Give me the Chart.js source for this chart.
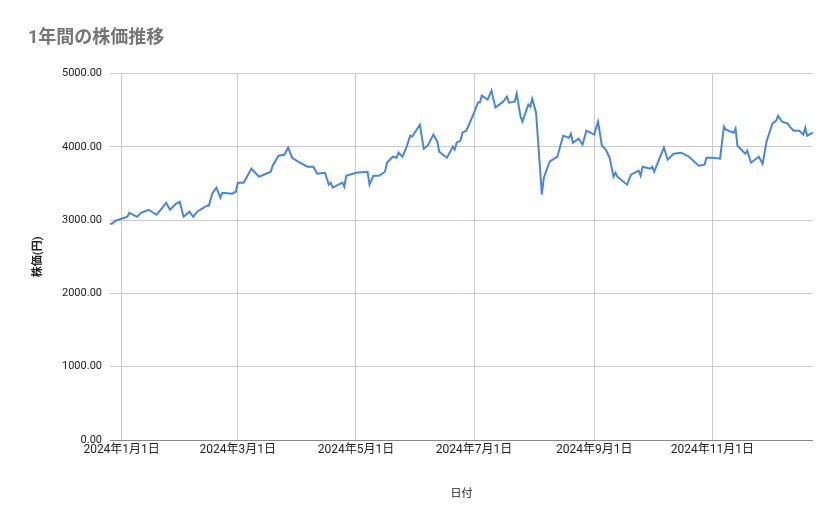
<!DOCTYPE html>
<html>
<head>
<meta charset="utf-8">
<script src="https://cdn.jsdelivr.net/npm/chart.js@4.4.0/dist/chart.umd.min.js"></script>
<style>
  body { margin: 0; background: #fff; }
  #wrap { width: 839px; height: 519px; }
</style>
</head>
<body>
<div id="wrap"><canvas id="myChart" width="839" height="519"></canvas></div>
<script>
// days since 2024-01-01
const days = [-6, -5, -3, 3, 4, 8, 10, 14, 18, 21, 23, 25, 28, 30, 32, 35, 37, 39, 44, 45, 47, 49, 51, 52, 57, 59, 60, 63, 67, 71, 77, 78, 81, 84, 86, 88, 92, 96, 99, 101, 105, 107, 108, 109, 114, 115, 116, 121,
  127, 128, 130, 133, 136, 137, 140, 142, 143, 145, 147, 149, 150, 154, 156, 158, 161, 163, 164, 168, 171, 172, 173, 175, 176, 178, 182, 184, 185, 186, 189, 191, 193, 197, 199, 200, 203, 204, 206, 207, 210, 211, 212, 214, 217, 218, 221, 225, 228, 231, 232, 233, 236, 238, 240, 244, 246,
  248, 250, 252, 254, 255, 256, 261, 263, 267, 268, 269, 273, 274, 275, 280, 282, 285, 289, 293, 298, 301, 302, 305, 309, 311, 312, 316, 317, 318, 322, 323, 325, 329, 331, 333, 336, 338, 339, 341, 344, 345, 347, 350, 352, 353, 354, 357];
const prices = [2951, 2951, 2992, 3046, 3101, 3046, 3101, 3142, 3074, 3169, 3238, 3142, 3224, 3251, 3046, 3115, 3046, 3115, 3197, 3197, 3374, 3443, 3306, 3374, 3361, 3388, 3511, 3511, 3702, 3593, 3661, 3743, 3880, 3893, 3989, 3852, 3784, 3729, 3729, 3634, 3647, 3484, 3511, 3443, 3511, 3456, 3606, 3647,
  3661, 3484, 3606, 3606, 3661, 3784, 3866, 3852, 3921, 3866, 3989, 4153, 4139, 4303, 3975, 4016, 4167, 4071, 3934, 3852, 4003, 3962, 4057, 4085, 4194, 4221, 4467, 4604, 4604, 4699, 4645, 4768, 4536, 4617, 4686, 4604, 4617, 4727, 4413, 4344, 4576, 4549, 4658, 4467, 3347, 3579, 3798, 3866, 4153, 4126, 4180, 4057, 4112, 4030, 4221, 4167, 4344,
  4016, 3962, 3852, 3593, 3647, 3593, 3484, 3620, 3675, 3606, 3729, 3702, 3729, 3661, 3989, 3825, 3907, 3921, 3866, 3743, 3757, 3852, 3852, 3839, 4276, 4235, 4194, 4249, 4016, 3907, 3948, 3784, 3866, 3770, 4071, 4317, 4358, 4426, 4344, 4317, 4276, 4221, 4221, 4167, 4262, 4153, 4194];
const tickDays = [0, 60, 121, 182, 244, 305];
const tickLabels = ["2024年1月1日", "2024年3月1日", "2024年5月1日", "2024年7月1日", "2024年9月1日", "2024年11月1日"];

const font = "Roboto, 'Noto Sans CJK JP', sans-serif";
const ctx = document.getElementById("myChart").getContext("2d");
new Chart(ctx, {
  type: "line",
  data: {
    datasets: [{
      data: days.map((d, i) => ({ x: d, y: prices[i] })),
      borderColor: "#4a86d8",
      borderWidth: 2,
      pointRadius: 0,
      tension: 0
    }]
  },
  options: {
    responsive: false,
    animation: false,
    layout: { padding: { left: 28, right: 26, top: 6, bottom: 14 } },
    plugins: {
      legend: { display: false },
      tooltip: { enabled: false },
      title: {
        display: true,
        text: "1年間の株価推移",
        align: "start",
        color: "#757575",
        font: { family: font, size: 18, weight: "bold" },
        padding: { top: 22, bottom: 24 }
      }
    },
    scales: {
      x: {
        type: "linear",
        min: -6,
        max: 357,
        afterBuildTicks: (s) => { s.ticks = tickDays.map(v => ({ value: v })); },
        afterFit: (s) => { s.height = 65; },
        ticks: {
          autoSkip: false,
          maxRotation: 0,
          color: "#222",
          font: { family: font, size: 12 },
          callback: (v) => tickLabels[tickDays.indexOf(v)]
        },
        grid: { color: "#ccc", drawTicks: false },
        border: { display: false },
        title: { display: true, text: "日付", color: "#222", font: { family: font, size: 11 }, padding: { top: 17 } }
      },
      y: {
        min: 0,
        max: 5000,
        afterFit: (s) => { s.width = 82; },
        ticks: {
          stepSize: 1000,
          color: "#222",
          padding: 8,
          font: { family: font, size: 11 },
          callback: (v) => v.toFixed(2)
        },
        grid: { color: (c) => c.tick.value === 0 ? "#888" : "#ccc", drawTicks: false },
        border: { display: false },
        title: { display: true, text: "株価(円)", color: "#222", font: { family: font, size: 11, weight: "bold" } }
      }
    }
  }
});
</script>
</body>
</html>
